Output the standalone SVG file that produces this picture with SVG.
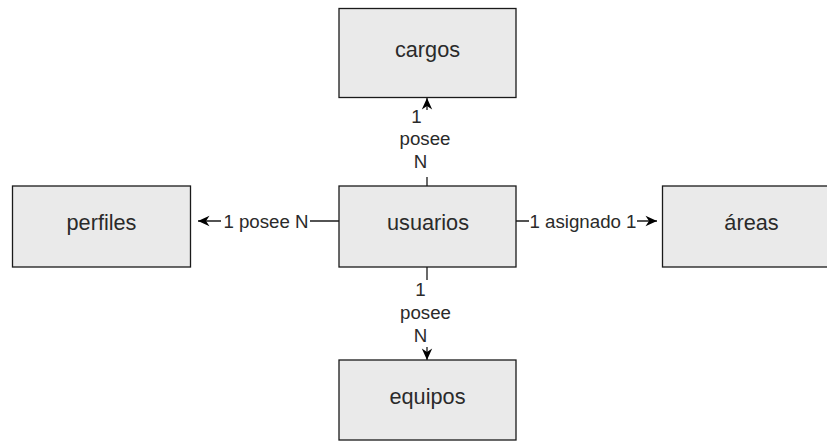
<svg xmlns="http://www.w3.org/2000/svg" width="827" height="441" viewBox="0 0 827 441">
<style>
.box{fill:#eaeaea;stroke:#1a1a1a;stroke-width:1.3}
.nt{font-family:"Liberation Sans",Arial,sans-serif;font-size:21.7px;fill:#2a2a2a;text-anchor:middle}
.et{font-family:"Liberation Sans",Arial,sans-serif;font-size:18.7px;fill:#2a2a2a;text-anchor:middle}
.edge{fill:none;stroke:#1a1a1a;stroke-width:1.3}
.lbg{fill:#ffffff}
</style>
<defs>
<marker id="arr" viewBox="-13 -7 14 14" refX="0" refY="0" markerWidth="14" markerHeight="14" markerUnits="userSpaceOnUse" orient="auto">
<path d="M0,0 L-11.5,-5.2 L-8,0 L-11.5,5.2 Z" fill="#000"/>
</marker>
</defs>
<rect width="827" height="441" fill="#ffffff"/>
<g id="connectors">
<g id="e-usuarios-cargos">
<path class="edge" d="M427,186 L427,98" marker-end="url(#arr)"/>
<rect class="lbg" x="397" y="110" width="56" height="67"/>
<text class="et" x="416.5" y="123">1</text>
<text class="et" x="425" y="145">posee</text>
<text class="et" x="420.5" y="168">N</text>
</g>
<g id="e-usuarios-perfiles">
<path class="edge" d="M339,221 L198,221" marker-end="url(#arr)"/>
<rect class="lbg" x="221" y="210" width="89" height="22"/>
<text class="et" x="266" y="227.5">1 posee N</text>
</g>
<g id="e-usuarios-areas">
<path class="edge" d="M516,221 L657,221" marker-end="url(#arr)"/>
<rect class="lbg" x="529" y="210" width="108" height="22"/>
<text class="et" x="583" y="227.5">1 asignado 1</text>
</g>
<g id="e-usuarios-equipos">
<path class="edge" d="M427,267 L427,360" marker-end="url(#arr)"/>
<rect class="lbg" x="397" y="280" width="56" height="67"/>
<text class="et" x="420.5" y="296">1</text>
<text class="et" x="425.5" y="319">posee</text>
<text class="et" x="420.5" y="341.5">N</text>
</g>
</g>
<g id="cargos">
<rect class="box" x="339" y="8.5" width="177" height="89"/>
<text class="nt" x="427.5" y="57">cargos</text>
</g>
<g id="perfiles">
<rect class="box" x="12.5" y="186" width="178" height="81"/>
<text class="nt" x="101.5" y="230">perfiles</text>
</g>
<g id="usuarios">
<rect class="box" x="339" y="186" width="177" height="81"/>
<text class="nt" x="428" y="230">usuarios</text>
</g>
<g id="areas">
<rect class="box" x="662.5" y="186" width="178" height="81"/>
<text class="nt" x="751.5" y="230">áreas</text>
</g>
<g id="equipos">
<rect class="box" x="339" y="360" width="177" height="80"/>
<text class="nt" x="427.5" y="404">equipos</text>
</g>
</svg>
